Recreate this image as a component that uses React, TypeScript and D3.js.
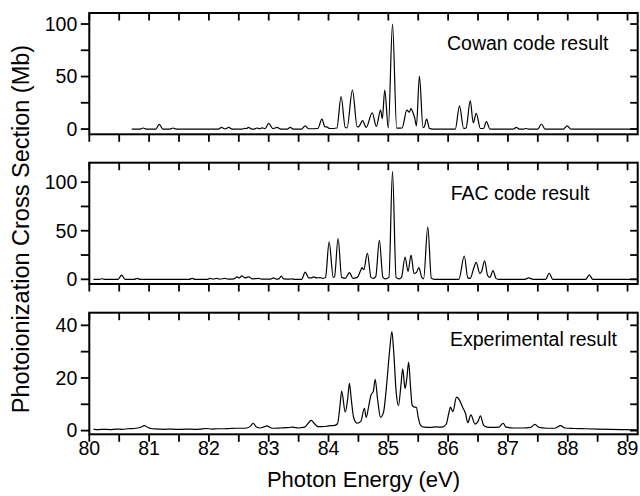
import React from "react";
import * as d3 from "d3";

// Cowan code result [energy eV, cross section Mb]
const cowanData: [number, number][] = [
  [80.71,0],[80.85,0],[80.90,1],[80.95,0],[81.11,0],[81.17,4.5],[81.23,0],[81.35,0],[81.40,1],[81.45,0],
  [82.16,0],[82.21,1.5],[82.27,0.2],[82.33,1.5],[82.39,0],[82.55,0],[82.60,0.6],[82.63,0.4],[82.66,1.5],[82.72,0],
  [82.76,0],[82.80,1],[82.85,0.3],[82.89,1.2],[82.94,0.4],[83.00,5.4],[83.07,0.4],[83.14,1.5],[83.20,0],[83.31,0],
  [83.36,1.5],[83.41,0],[83.55,0],[83.61,3],[83.67,0.3],[83.82,0.5],[83.89,9.5],[83.94,2],[83.97,2],[84.02,0.5],
  [84.14,1],[84.21,31],[84.28,1.5],[84.31,1.2],[84.40,37],[84.48,2],[84.51,2.5],[84.57,8],[84.63,1.5],[84.73,15.5],
  [84.80,2.5],[84.87,18],[84.90,10],[84.94,37],[85.00,1],[85.07,100],[85.14,0.8],[85.23,1],[85.31,18],[85.35,16],
  [85.38,19.5],[85.41,16],[85.44,11],[85.47,3],[85.52,50.5],[85.58,1.5],[85.60,2],[85.64,9.5],[85.69,0.5],[85.74,0],
  [86.12,0],[86.19,22],[86.26,0.5],[86.30,1],[86.37,27],[86.42,6],[86.47,15],[86.54,0.5],[86.59,0.5],[86.64,7],
  [86.70,0],[87.09,0],[87.14,1.5],[87.19,0],[87.26,0],[87.30,0.5],[87.34,0],[87.50,0],[87.56,4.8],[87.62,0],
  [87.93,0],[87.99,3],[88.05,0],[89.17,0]
];

// FAC code result
const facData: [number, number][] = [
  [80.07,0],[80.17,0],[80.21,0.6],[80.25,0],[80.48,0],[80.54,4.4],[80.60,0],[80.75,0],[80.80,1],[80.85,0],
  [81.67,0],[81.72,1],[81.77,0],[81.98,0],[82.02,1],[82.07,0.2],[82.13,1],[82.18,0.2],[82.27,1],[82.32,0.2],
  [82.42,0.5],[82.47,2.5],[82.51,1.5],[82.55,3.5],[82.60,1.5],[82.67,2.5],[82.72,0.5],[82.83,1],[82.88,0.2],[83.03,0.3],
  [83.08,1.5],[83.13,0.3],[83.17,0.5],[83.21,3.4],[83.25,0.5],[83.35,0.2],[83.39,0.5],[83.43,0],[83.55,0],[83.61,7.5],
  [83.67,1.5],[83.71,1.5],[83.75,2.5],[83.80,1.5],[83.86,1.8],[83.91,1],[83.95,2],[84.01,38.6],[84.08,2],[84.10,2.5],
  [84.16,42],[84.22,2],[84.28,1],[84.35,7],[84.41,1],[84.48,2],[84.53,8],[84.56,12],[84.59,10],[84.65,27],
  [84.71,2],[84.75,1],[84.79,3],[84.85,40],[84.91,2],[84.95,0.5],[85.01,2],[85.07,111],[85.13,2],[85.18,0.5],
  [85.22,2],[85.28,23],[85.33,8],[85.38,25],[85.43,6],[85.47,7],[85.51,12],[85.56,2],[85.59,0.5],[85.66,54],
  [85.72,1],[85.77,0],[86.18,0],[86.27,24],[86.33,1.5],[86.37,1],[86.43,12],[86.47,17.5],[86.53,6],[86.56,8],
  [86.61,19],[86.66,4],[86.70,2],[86.75,9],[86.80,1],[86.84,0],[87.28,0],[87.35,1.5],[87.42,0],[87.63,0],
  [87.69,6.5],[87.75,0],[88.30,0],[88.36,4.5],[88.42,0],[89.17,0]
];

// Experimental result
const expData: [number, number][] = [
  [80.07,0.6],[80.15,0.4],[80.25,0.5],[80.35,0.4],[80.45,0.6],[80.55,0.5],[80.65,0.7],[80.75,0.8],[80.86,1.3],[80.92,1.9],
  [80.98,1.2],[81.05,0.7],[81.15,0.6],[81.25,0.5],[81.35,0.6],[81.45,0.5],[81.55,0.5],[81.65,0.6],[81.75,0.5],[81.85,0.6],
  [81.95,0.8],[82.05,0.6],[82.15,0.7],[82.25,0.7],[82.35,0.8],[82.45,0.9],[82.55,0.9],[82.65,1.1],[82.70,1.8],[82.74,2.8],
  [82.79,1.5],[82.85,1.0],[82.92,1.4],[82.97,1.8],[83.03,1.1],[83.10,0.9],[83.20,1.0],[83.30,1.1],[83.40,1.3],[83.50,1.0],
  [83.60,1.3],[83.66,2.8],[83.71,3.9],[83.76,2.8],[83.82,1.5],[83.90,1.5],[84.00,1.8],[84.10,2.0],[84.15,2.6],[84.19,9],
  [84.22,15],[84.28,7],[84.32,12],[84.35,18],[84.38,12],[84.42,5],[84.48,2.8],[84.54,3.5],[84.60,8.5],[84.63,5],
  [84.67,9],[84.71,13.5],[84.75,15],[84.78,19.5],[84.82,12],[84.87,5],[84.92,7],[84.97,17],[85.02,30],[85.06,37.6],
  [85.09,30],[85.13,15],[85.17,9.5],[85.21,17],[85.24,23.5],[85.28,16],[85.31,20],[85.34,26],[85.37,17],[85.40,9.5],
  [85.43,9],[85.47,8.8],[85.50,5],[85.54,2],[85.60,1.3],[85.70,1.2],[85.80,1.4],[85.90,1.3],[85.97,2.5],[86.01,6.5],
  [86.04,8.9],[86.08,7.2],[86.14,12.7],[86.19,11.6],[86.24,9],[86.29,6.6],[86.33,3],[86.38,6],[86.45,2.5],[86.50,3.5],
  [86.54,5.6],[86.59,2.2],[86.65,1.3],[86.75,1.2],[86.85,1.3],[86.92,2.8],[86.97,1.3],[87.10,1.0],[87.25,1.0],[87.38,1.2],
  [87.45,2.4],[87.52,1.2],[87.65,0.9],[87.78,0.9],[87.88,1.9],[87.95,1.0],[88.10,0.8],[88.30,0.7],[88.50,0.6],[88.70,0.5],
  [88.90,0.4],[89.10,0.3],[89.17,0.3]
];

const panelLabels = ["Cowan code result", "FAC code result", "Experimental result"];
const xDomain: [number, number] = [80, 89.17];
const xMajorTicks = [80, 81, 82, 83, 84, 85, 86, 87, 88, 89];
const xMinorTicks = [80.5, 81.5, 82.5, 83.5, 84.5, 85.5, 86.5, 87.5, 88.5];
const yDomains: [number, number][] = [[-5, 110.5], [-4.8, 120], [-1.4, 44.8]];
const yMajorTicks = [[0, 50, 100], [0, 50, 100], [0, 20, 40]];
const yMinorTicks = [[25, 75], [25, 75], [10, 30]];
const xTitle = "Photon Energy (eV)";
const yTitle = "Photoionization Cross Section (Mb)";

const FONT = "'Liberation Sans', Arial, sans-serif";

export default function App() {
  const W = 640, H = 496;
  const left = 89.3, right = 637.7;
  const panels = [
    { top: 13, bottom: 134.3 },
    { top: 162.7, bottom: 284 },
    { top: 312.7, bottom: 434.3 },
  ];
  const series = [cowanData, facData, expData];
  const labelPos = [[447, 50], [450.7, 200], [450, 346]];
  const x = d3.scaleLinear().domain(xDomain).range([left, right]);
  const tl = 7.5;
  const stroke = "#000";

  return (
    <svg width={W} height={H} style={{ position: "absolute", left: 0, top: 0, background: "#fff" }}
      fontFamily={FONT}>
      <rect x={0} y={0} width={W} height={H} fill="#fff" />
      {panels.map((p, i) => {
        const y = d3.scaleLinear().domain(yDomains[i]).range([p.bottom, p.top]);
        const line = d3.line<[number, number]>()
          .x(d => x(d[0]))
          .y(d => y(d[1]))
          .curve(d3.curveMonotoneX);
        const yt = [...yMajorTicks[i], ...yMinorTicks[i]];
        const xt = [...xMajorTicks, ...xMinorTicks];
        return (
          <g key={i}>
            <path d={line(series[i]) || ""} fill="none" stroke={stroke} strokeWidth={1.2} strokeLinejoin="round" />
            <rect x={left} y={p.top} width={right - left} height={p.bottom - p.top}
              fill="none" stroke={stroke} strokeWidth={2} />
            {xt.map(t => (
              <g key={"x" + t}>
                <line x1={x(t)} x2={x(t)} y1={p.bottom} y2={p.bottom + tl} stroke={stroke} strokeWidth={1.8} />
                <line x1={x(t)} x2={x(t)} y1={p.top} y2={p.top + tl} stroke={stroke} strokeWidth={1.8} />
              </g>
            ))}
            {yt.map(t => (
              <g key={"y" + t}>
                <line x1={left - tl - 1} x2={left} y1={y(t)} y2={y(t)} stroke={stroke} strokeWidth={1.8} />
                <line x1={right - tl} x2={right} y1={y(t)} y2={y(t)} stroke={stroke} strokeWidth={1.8} />
              </g>
            ))}
            {yMajorTicks[i].map(t => (
              <text key={"yl" + t} x={left - 12} y={y(t)} dy="0.35em" textAnchor="end" fontSize={19.5}>{t}</text>
            ))}
            <text x={labelPos[i][0]} y={labelPos[i][1]} fontSize={19.5}>{panelLabels[i]}</text>
            {i === 2 && xMajorTicks.map(t => (
              <text key={"xl" + t} x={x(t)} y={455} textAnchor="middle" fontSize={19.5}>{t}</text>
            ))}
          </g>
        );
      })}
      <text x={(left + right) / 2} y={487} textAnchor="middle" fontSize={22}>{xTitle}</text>
      <text transform={`translate(29, 229) rotate(-90)`} textAnchor="middle" fontSize={23.5}>{yTitle}</text>
    </svg>
  );
}
